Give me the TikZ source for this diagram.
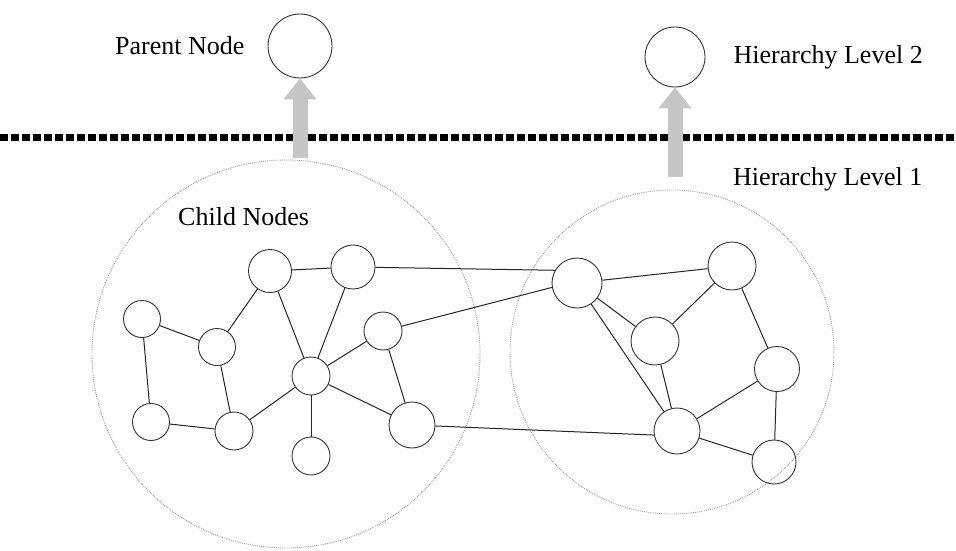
\documentclass[tikz,border=0pt]{standalone}
\usepackage{fontspec}
\setmainfont{Liberation Serif}
\usetikzlibrary{positioning,arrows.meta}

\begin{document}
\begin{tikzpicture}[x=1pt, y=-1pt,
    vertex/.style={circle, draw=black!80, line width=0.9pt, inner sep=0pt, minimum size=#1},
    vertex/.default=38pt,
    cluster/.style={circle, draw=gray!75, densely dotted, line width=0.9pt, inner sep=0pt, minimum size=#1},
    link/.style={line width=1pt, black!85},
    lift/.style={line width=15pt, gray!45, -{Triangle[width=32pt,length=21pt]}},
    tag/.style={inner sep=0pt, font=\fontsize{26}{30}\selectfont}]
    \useasboundingbox (0,0) rectangle (956,551);

    % level border
    \draw[line width=7pt, dash pattern=on 7.5pt off 3.5pt] (0,137) -- (956,137);

    % the two groups of level 1
    \node[cluster=388pt] (left) at (286,354) {};
    \node[cluster=324pt] (right) at (672,352) {};

    % level 2
    \node[vertex=64pt] (parent) at (300,46) {};
    \node[vertex=60pt] (lvl2) at (675,57) {};

    % child nodes, left group
    \node[vertex=43pt] (A) at (270,271) {};
    \node[vertex=44pt] (B) at (353,267) {};
    \node[vertex=37pt] (C) at (142,319) {};
    \node[vertex=37pt] (D) at (217,347) {};
    \node[vertex] (E) at (311,376) {};
    \node[vertex] (F) at (383,331) {};
    \node[vertex=37pt] (G) at (151,422) {};
    \node[vertex] (H) at (234,431) {};
    \node[vertex] (I) at (311,456) {};
    \node[vertex=46pt] (J) at (412,425) {};

    % right group
    \node[vertex=50pt] (K) at (577,283) {};
    \node[vertex=48pt] (L) at (732,266) {};
    \node[vertex=48pt] (M) at (655,341) {};
    \node[vertex=45pt] (N) at (777,369) {};
    \node[vertex=46pt] (O) at (677,431) {};
    \node[vertex=44pt] (P) at (774,462) {};

    \foreach \a/\b in {A/B, A/D, C/D, C/G, G/H, D/H, H/E, A/E, B/E, E/F, E/J, F/J, E/I,
                       K/L, K/M, K/O, L/M, L/N, M/O, N/O, N/P, O/P}
        \draw[link] (\a) -- (\b);
    % links between the groups
    \draw[link] (B) -- (K.150);
    \draw[link] (F) -- (K.190);
    \draw[link] (J) -- (O.190);

    % each group goes up one level
    \coordinate (pfoot) at (300,158);
    \coordinate (lfoot) at (675,177);
    \draw[lift] (pfoot) -- (parent);
    \draw[lift] (lfoot) -- (lvl2);

    \node[tag, left=23pt of parent] (ptext) {Parent Node};
    \node[tag, right=28pt of lvl2] (l2text) {Hierarchy Level 2};
    \node[tag, anchor=base west] (l1text) at (733,185) {Hierarchy Level 1};
    \node[tag, anchor=base west] (ctext) at (178,225) {Child Nodes};
\end{tikzpicture}
\end{document}
